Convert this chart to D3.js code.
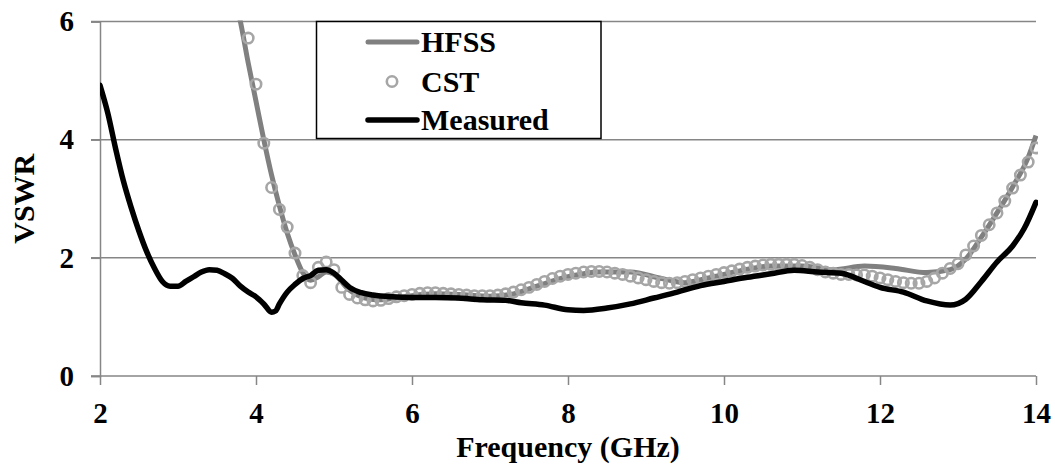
<!DOCTYPE html>
<html>
<head>
<meta charset="utf-8">
<script src="https://cdn.jsdelivr.net/npm/d3@7"></script>
</head>
<body style="margin:0;background:#fff">
<svg id="chart" width="1055" height="464" font-family="Liberation Serif"></svg>
<script>
// VSWR versus frequency: two simulations and one measurement.
const xTicks = [2, 4, 6, 8, 10, 12, 14];
const yTicks = [0, 2, 4, 6];

// HFSS simulation (GHz, VSWR)
const hfssFreq = [3.75, 3.8, 3.9, 4.0, 4.1, 4.2, 4.3, 4.4, 4.5, 4.6, 4.7, 4.8, 4.9, 5.0, 5.2, 5.4, 5.6, 5.8, 6.0, 6.3, 6.6, 7.0, 7.3, 7.6, 8.0, 8.4, 8.8, 9.2, 9.5, 9.8, 10.2, 10.6, 11.0, 11.4, 11.8, 12.2, 12.6, 12.9, 13.1, 13.3, 13.5, 13.7, 13.9, 14.0];
const hfssVswr = [6.3, 6.0, 5.3, 4.65, 4.0, 3.4, 2.88, 2.42, 2.05, 1.75, 1.62, 1.68, 1.76, 1.72, 1.45, 1.32, 1.29, 1.32, 1.36, 1.39, 1.38, 1.35, 1.39, 1.52, 1.68, 1.76, 1.76, 1.65, 1.58, 1.66, 1.78, 1.86, 1.86, 1.8, 1.86, 1.82, 1.75, 1.8, 1.98, 2.35, 2.76, 3.2, 3.7, 4.07];

// CST simulation, sampled every 0.1 GHz from 3.9 GHz
const cstFreq = [3.9, 4.0, 4.1, 4.2, 4.3, 4.4, 4.5, 4.6, 4.7, 4.8, 4.9, 5.0, 5.1, 5.2, 5.3, 5.4, 5.5, 5.6, 5.7, 5.8, 5.9, 6.0, 6.1, 6.2, 6.3, 6.4, 6.5, 6.6, 6.7, 6.8, 6.9, 7.0, 7.1, 7.2, 7.3, 7.4, 7.5, 7.6, 7.7, 7.8, 7.9, 8.0, 8.1, 8.2, 8.3, 8.4, 8.5, 8.6, 8.7, 8.8, 8.9, 9.0, 9.1, 9.2, 9.3, 9.4, 9.5, 9.6, 9.7, 9.8, 9.9, 10.0, 10.1, 10.2, 10.3, 10.4, 10.5, 10.6, 10.7, 10.8, 10.9, 11.0, 11.1, 11.2, 11.3, 11.4, 11.5, 11.6, 11.7, 11.8, 11.9, 12.0, 12.1, 12.2, 12.3, 12.4, 12.5, 12.6, 12.7, 12.8, 12.9, 13.0, 13.1, 13.2, 13.3, 13.4, 13.5, 13.6, 13.7, 13.8, 13.9, 14.0];
const cstVswr = [5.72, 4.94, 3.94, 3.19, 2.82, 2.52, 2.08, 1.7, 1.58, 1.84, 1.93, 1.8, 1.5, 1.38, 1.32, 1.29, 1.27, 1.28, 1.31, 1.34, 1.36, 1.38, 1.4, 1.41, 1.41, 1.4, 1.39, 1.38, 1.37, 1.36, 1.36, 1.36, 1.37, 1.39, 1.42, 1.46, 1.5, 1.55, 1.6, 1.65, 1.69, 1.72, 1.74, 1.76, 1.77, 1.77, 1.76, 1.74, 1.72, 1.69, 1.66, 1.63, 1.6, 1.58, 1.57, 1.58, 1.6, 1.63, 1.66, 1.69, 1.72, 1.75, 1.78, 1.81, 1.84, 1.86, 1.88, 1.89, 1.89, 1.89, 1.89, 1.87, 1.84, 1.8, 1.76, 1.74, 1.72, 1.72, 1.71, 1.71, 1.69, 1.66, 1.63, 1.6, 1.58, 1.57, 1.57, 1.6, 1.66, 1.74, 1.82, 1.9, 2.05, 2.2, 2.38, 2.56, 2.76, 2.96, 3.18, 3.4, 3.62, 3.86];

// Measured response
const measFreq = [2.0, 2.1, 2.2, 2.3, 2.4, 2.5, 2.6, 2.7, 2.8, 2.9, 3.0, 3.1, 3.2, 3.3, 3.4, 3.5, 3.6, 3.7, 3.8, 3.9, 4.0, 4.1, 4.2, 4.25, 4.3, 4.4, 4.5, 4.6, 4.7, 4.8, 4.9, 5.0, 5.1, 5.2, 5.35, 5.5, 5.75, 6.0, 6.3, 6.6, 6.9, 7.2, 7.4, 7.7, 8.0, 8.2, 8.5, 8.8, 9.1, 9.4, 9.7, 10.0, 10.3, 10.6, 10.9, 11.2, 11.5, 11.8, 12.0, 12.3, 12.6, 12.9, 13.1, 13.3, 13.5, 13.7, 13.85, 14.0];
const measVswr = [4.92, 4.45, 3.85, 3.3, 2.85, 2.45, 2.1, 1.82, 1.6, 1.52, 1.52, 1.6, 1.68, 1.76, 1.8, 1.79, 1.73, 1.65, 1.52, 1.42, 1.34, 1.22, 1.08, 1.1, 1.22, 1.42, 1.55, 1.65, 1.7, 1.79, 1.8, 1.74, 1.62, 1.5, 1.41, 1.37, 1.34, 1.33, 1.33, 1.32, 1.29, 1.28, 1.24, 1.2, 1.12, 1.11, 1.15, 1.22, 1.32, 1.42, 1.53, 1.6, 1.67, 1.73, 1.79, 1.76, 1.74, 1.6, 1.5, 1.42, 1.27, 1.2, 1.3, 1.6, 1.93, 2.2, 2.5, 2.94];

const legendLabels = ["HFSS", "CST", "Measured"];
const xTitle = "Frequency (GHz)";
const yTitle = "VSWR";

const zip = (xs, ys) => xs.map((x, i) => ({ x, y: ys[i] }));
const hfss = zip(hfssFreq, hfssVswr);
const cst = zip(cstFreq, cstVswr);
const meas = zip(measFreq, measVswr);

const svg = d3.select("#chart");
const plot = { left: 100, right: 1036, top: 21.5, bottom: 376 };

const x = d3.scaleLinear().domain([2, 14]).range([plot.left, plot.right]);
const y = d3.scaleLinear().domain([0, 6]).range([plot.bottom, plot.top]);

const axisColor = "#868686";
const fontSize = 30;
const tickFontSize = 29;

// bold serif face used by every label
const styleText = (sel, size = fontSize) => sel
  .attr("font-family", "Liberation Serif")
  .attr("font-weight", "bold")
  .attr("font-size", size)
  .attr("fill", "#000");

// horizontal gridlines
svg.append("g")
  .selectAll("line")
  .data(yTicks.filter(d => d > 0))
  .join("line")
  .attr("x1", plot.left - 9).attr("x2", plot.right)
  .attr("y1", d => y(d)).attr("y2", d => y(d))
  .attr("stroke", axisColor).attr("stroke-width", 1.5);

// y axis
const yAxis = svg.append("g")
  .attr("transform", `translate(${plot.left},0)`)
  .call(d3.axisLeft(y).tickValues(yTicks).tickSize(9).tickPadding(17).tickFormat(d3.format("d")));
yAxis.attr("font-family", "Liberation Serif");
yAxis.select(".domain").attr("stroke", axisColor).attr("stroke-width", 1.5);
yAxis.selectAll(".tick line").attr("stroke", axisColor).attr("stroke-width", 1.5);
yAxis.selectAll(".tick text").call(styleText, tickFontSize);

// x axis
const xAxis = svg.append("g")
  .attr("transform", `translate(0,${plot.bottom})`)
  .call(d3.axisBottom(x).tickValues(xTicks).tickSize(9).tickPadding(17).tickFormat(d3.format("d")));
xAxis.attr("font-family", "Liberation Serif");
xAxis.select(".domain").attr("stroke", axisColor).attr("stroke-width", 1.5)
  .attr("d", `M${plot.left - 9},0H${plot.right}`);
xAxis.selectAll(".tick line").attr("stroke", axisColor).attr("stroke-width", 1.5);
xAxis.selectAll(".tick text").call(styleText, tickFontSize);

// axis titles
svg.append("text")
  .attr("x", (plot.left + plot.right) / 2).attr("y", 457)
  .attr("text-anchor", "middle")
  .call(styleText)
  .text(xTitle);
svg.append("text")
  .attr("transform", `translate(34,${(plot.top + plot.bottom) / 2}) rotate(-90)`)
  .attr("text-anchor", "middle")
  .call(styleText)
  .text(yTitle);

// clip series to the plotting area
svg.append("clipPath").attr("id", "plot-clip")
  .append("rect")
  .attr("x", plot.left).attr("y", plot.top - 1)
  .attr("width", plot.right - plot.left + 2).attr("height", plot.bottom - plot.top + 1);

const series = svg.append("g").attr("clip-path", "url(#plot-clip)");
const line = d3.line().x(d => x(d.x)).y(d => y(d.y)).curve(d3.curveMonotoneX);

series.append("path")
  .datum(hfss)
  .attr("d", line)
  .attr("fill", "none").attr("stroke", "#808080").attr("stroke-width", 5)
  .attr("stroke-linejoin", "round");

series.append("g")
  .selectAll("circle")
  .data(cst)
  .join("circle")
  .attr("cx", d => x(d.x)).attr("cy", d => y(d.y))
  .attr("r", 5.2)
  .attr("fill", "none").attr("stroke", "#a6a6a6").attr("stroke-width", 2.6);

series.append("path")
  .datum(meas)
  .attr("d", line)
  .attr("fill", "none").attr("stroke", "#000").attr("stroke-width", 5.5)
  .attr("stroke-linejoin", "round").attr("stroke-linecap", "round");

// legend
const legend = svg.append("g");
legend.append("rect")
  .attr("x", 316.5).attr("y", 21.5).attr("width", 284.5).attr("height", 117)
  .attr("fill", "#fff").attr("stroke", "#000").attr("stroke-width", 1.5);

const rowY = [42, 81.5, 120];
legend.append("line")
  .attr("x1", 368).attr("x2", 417).attr("y1", rowY[0]).attr("y2", rowY[0])
  .attr("stroke", "#808080").attr("stroke-width", 5).attr("stroke-linecap", "round");
legend.append("circle")
  .attr("cx", 392).attr("cy", rowY[1]).attr("r", 5.2)
  .attr("fill", "none").attr("stroke", "#a6a6a6").attr("stroke-width", 2.6);
legend.append("line")
  .attr("x1", 368).attr("x2", 417).attr("y1", rowY[2]).attr("y2", rowY[2])
  .attr("stroke", "#000").attr("stroke-width", 5.5).attr("stroke-linecap", "round");

legend.selectAll("text.lbl")
  .data(legendLabels)
  .join("text")
  .attr("class", "lbl")
  .attr("x", 421).attr("y", (d, i) => rowY[i] + 10)
  .call(styleText)
  .text(d => d);
</script>
</body>
</html>
